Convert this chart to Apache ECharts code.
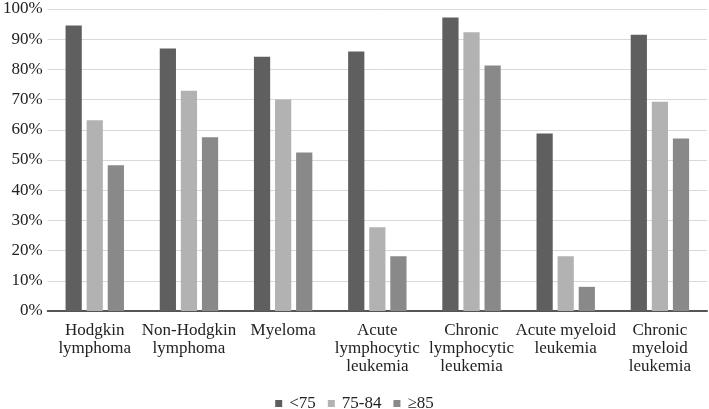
<!DOCTYPE html>
<html>
<head>
<meta charset="utf-8">
<script src="https://cdn.jsdelivr.net/npm/echarts@6/dist/echarts.min.js"></script>
<style>
  html, body { margin: 0; padding: 0; background: #fff; }
  #chart { width: 709px; height: 409px; }
</style>
</head>
<body>
<div id="chart"></div>
<script>
var categories = [
  'Hodgkin\nlymphoma',
  'Non-Hodgkin\nlymphoma',
  'Myeloma',
  'Acute\nlymphocytic\nleukemia',
  'Chronic\nlymphocytic\nleukemia',
  'Acute myeloid\nleukemia',
  'Chronic\nmyeloid\nleukemia'
];
var under75 = [94.5, 86.9, 84.2, 85.9, 97.2, 58.8, 91.5];
var age75to84 = [63.2, 72.9, 70.0, 27.7, 92.3, 18.1, 69.3];
var over85 = [48.3, 57.5, 52.5, 18.1, 81.3, 8.0, 57.1];
var seriesNames = ['<75', '75-84', '\u226585'];
var colors = ['#5f5f5f', '#b2b2b2', '#898989'];

var font = 'Liberation Serif';
var myChart = echarts.init(document.getElementById('chart'));

myChart.setOption({
  animation: false,
  color: colors,
  textStyle: { fontFamily: font },
  grid: { left: 45, right: 2, top: 9, bottom: 98, containLabel: false },
  legend: {
    top: 390,
    left: 'center',
    itemWidth: 7,
    itemHeight: 7,
    itemGap: 12,
    icon: 'rect',
    textStyle: { fontFamily: font, fontSize: 17, color: '#222', padding: [0, 0, 0, 2] },
    data: seriesNames
  },
  xAxis: {
    type: 'category',
    data: categories,
    axisLine: { lineStyle: { color: '#555', width: 2 } },
    axisTick: { show: false },
    axisLabel: {
      interval: 0,
      margin: 11,
      fontFamily: font,
      fontSize: 17,
      lineHeight: 18,
      color: '#222',
      align: 'center'
    }
  },
  yAxis: {
    type: 'value',
    min: 0,
    max: 100,
    interval: 10,
    axisLine: { show: false },
    axisTick: { show: false },
    splitLine: { lineStyle: { color: '#d9d9d9', width: 1 } },
    axisLabel: {
      formatter: '{value}%',
      margin: 5,
      fontFamily: font,
      fontSize: 17,
      color: '#222'
    }
  },
  series: [
    { name: seriesNames[0], type: 'bar', data: under75, barGap: '30%', barCategoryGap: '38%' },
    { name: seriesNames[1], type: 'bar', data: age75to84, barGap: '30%', barCategoryGap: '38%' },
    { name: seriesNames[2], type: 'bar', data: over85, barGap: '30%', barCategoryGap: '38%' }
  ]
});

window.addEventListener('resize', function () {
  myChart.resize();
});
</script>
</body>
</html>
